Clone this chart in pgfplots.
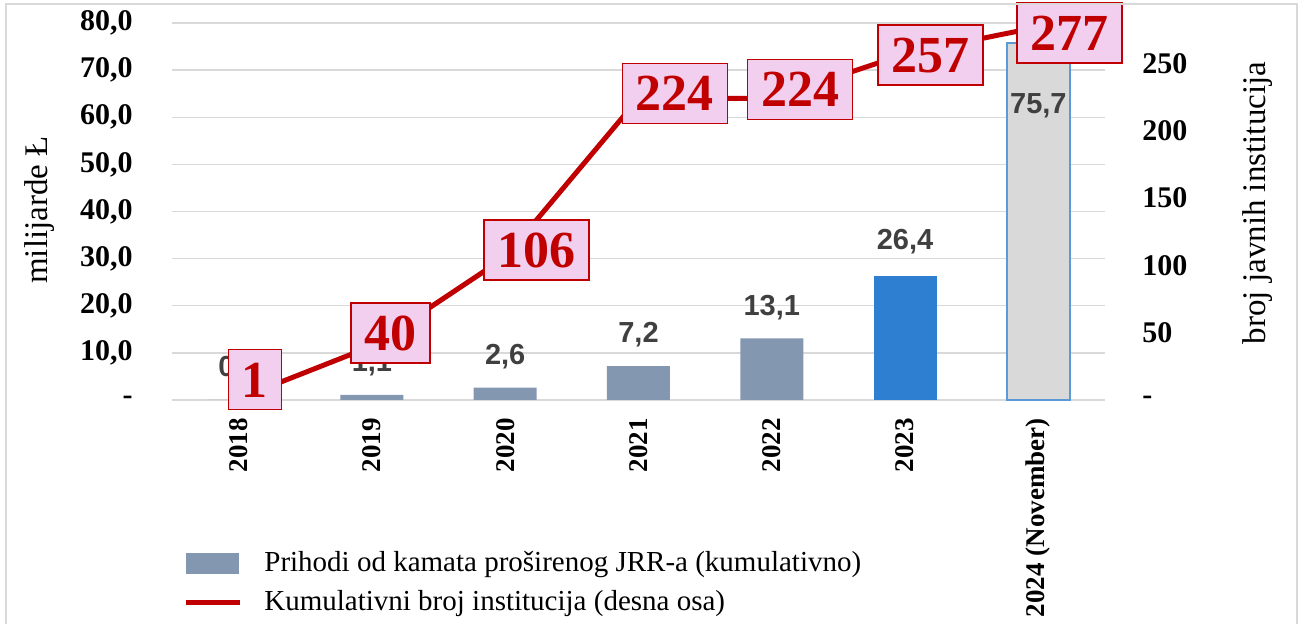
\documentclass[border=0pt]{standalone}
\usepackage{pgfplots}
\pgfplotsset{compat=1.18}
\usepackage{pgfplotstable}
\usepackage{fontspec}
\setmainfont{Liberation Serif}
\newfontfamily\sansfont{Liberation Sans}
\definecolor{barA}{HTML}{8497B0}
\definecolor{barB}{HTML}{2E7FD2}
\definecolor{barC}{HTML}{D9D9D9}
\definecolor{barCedge}{HTML}{5B9BD5}
\definecolor{redline}{HTML}{C00000}
\definecolor{pinkbox}{HTML}{F2CEEF}
\definecolor{labgrey}{HTML}{404040}
\definecolor{gridc}{HTML}{D9D9D9}

\pgfplotstableread[row sep=\\]{
x y lab\\
0 0.0 0,0\\
1 1.1 1,1\\
2 2.6 2,6\\
3 7.2 7,2\\
4 13.1 13,1\\
}\barsA
\pgfplotstableread[row sep=\\]{
x y lab\\
5 26.4 26,4\\
}\barsB
\pgfplotstableread[row sep=\\]{
x y lab\\
6 75.7 75,7\\
}\barsC
\pgfplotstableread[row sep=\\]{
x y dx dy lab\\
0 1 -5.5 9.5 1\\
1 40 -11 6.5 40\\
2 106 -11 3.5 106\\
3 224 -8.5 2.5 224\\
4 224 -12.5 4.5 224\\
5 257 -14 -0.5 257\\
6 277 -11 -3 277\\
}\lineData

\begin{document}
\begin{tikzpicture}
\begin{axis}[
  scale only axis, width=466.5pt, height=188.5pt,
  xmin=-0.5, xmax=6.5, ymin=0, ymax=80,
  axis x line*=bottom, axis y line*=left,
  axis line style={draw=none},
  major tick length=0pt,
  ymajorgrids, grid style={draw=gridc, line width=0.75pt},
  xtick={0,1,2,3,4,5,6},
  xticklabels={2018,2019,2020,2021,2022,2023,{2024 (November)}},
  xticklabel style={rotate=90, anchor=east, inner sep=0pt, font=\fontsize{13.5}{16}\selectfont\bfseries},
  xticklabel shift=9pt,
  ytick={0,10,20,30,40,50,60,70,80},
  yticklabels={{-\hspace{7.5pt}},{10,0},{20,0},{30,0},{40,0},{50,0},{60,0},{70,0},{80,0}},
  yticklabel style={anchor=east, inner sep=0pt, font=\fontsize{15}{18}\selectfont\bfseries},
  yticklabel shift=19.5pt,
  ylabel={milijarde Ł},
  every axis y label/.style={at={(axis description cs:-0.1415,0.504)}, anchor=center, rotate=90, font=\fontsize{16.5}{20}\selectfont},
  clip=false,
]
\addplot[ybar, bar width=31.5pt, bar shift=0pt, fill=barA, draw=none,
  point meta=explicit symbolic, nodes near coords,
  nodes near coords style={anchor=center, yshift=15.5pt, font=\sansfont\fontsize{14.5}{17}\selectfont\bfseries, text=labgrey}]
  table[x=x, y=y, meta=lab] {\barsA};
\addplot[ybar, bar width=31.5pt, bar shift=0pt, fill=barB, draw=none,
  point meta=explicit symbolic, nodes near coords,
  nodes near coords style={anchor=center, yshift=17pt, font=\sansfont\fontsize{14.5}{17}\selectfont\bfseries, text=labgrey}]
  table[x=x, y=y, meta=lab] {\barsB};
\addplot[ybar, bar width=31.5pt, bar shift=0pt, fill=barC, draw=barCedge, line width=0.8pt,
  point meta=explicit symbolic, nodes near coords,
  nodes near coords style={anchor=center, yshift=-31pt, font=\sansfont\fontsize{14.5}{17}\selectfont\bfseries, text=labgrey}]
  table[x=x, y=y, meta=lab] {\barsC};
\end{axis}

\begin{axis}[
  scale only axis, width=466.5pt, height=188.5pt,
  xmin=-0.5, xmax=6.5, ymin=0, ymax=280,
  axis x line=none, axis y line*=right,
  axis line style={draw=none},
  major tick length=0pt,
  ytick={0,50,100,150,200,250},
  yticklabels={{-},50,100,150,200,250},
  yticklabel style={anchor=west, inner sep=0pt, font=\fontsize{15}{18}\selectfont\bfseries},
  yticklabel shift=18.5pt,
  ylabel={broj javnih institucija},
  every axis y label/.style={at={(axis description cs:1.164,0.5225)}, anchor=center, rotate=90, font=\fontsize{16.5}{20}\selectfont},
  clip=false,
  legend cell align=left,
  legend style={at={(axis description cs:0.0118,-0.39)}, anchor=north west, draw=none, fill=none,
    font=\fontsize{14.5}{17}\selectfont, column sep=9pt, row sep=4pt, inner sep=0pt},
]
\addlegendimage{legend image code/.code={\fill[barA] (0pt,-5pt) rectangle (26pt,5pt);}}
\addlegendentry{Prihodi od kamata proširenog JRR-a (kumulativno)}
\addplot[redline, line width=2.5pt, mark=none,
  legend image code/.code={\draw[redline, line width=2.5pt] (0pt,0pt) -- (27pt,0pt);},
  point meta=explicit symbolic, nodes near coords,
  visualization depends on={\thisrow{dx} \as \dx},
  visualization depends on={\thisrow{dy} \as \dy},
  nodes near coords style={anchor=west, xshift=\dx pt, yshift=\dy pt,
    fill=pinkbox, draw=redline, line width=0.8pt, text=redline,
    font=\fontsize{26}{30}\selectfont\bfseries, inner xsep=6.75pt, inner ysep=6.2pt,
    text height=17.6pt, text depth=0pt}]
  table[x=x, y=y, meta=lab] {\lineData};
\addlegendentry{Kumulativni broj institucija (desna osa)}
\end{axis}

\draw[gridc, line width=0.75pt] (-83pt,-130pt) -- (-83pt,198pt) -- (562.5pt,198pt) -- (562.5pt,-130pt);
\pgfresetboundingbox
\path[use as bounding box] (-86pt,-112pt) rectangle (565.5pt,200pt);
\end{tikzpicture}
\end{document}
